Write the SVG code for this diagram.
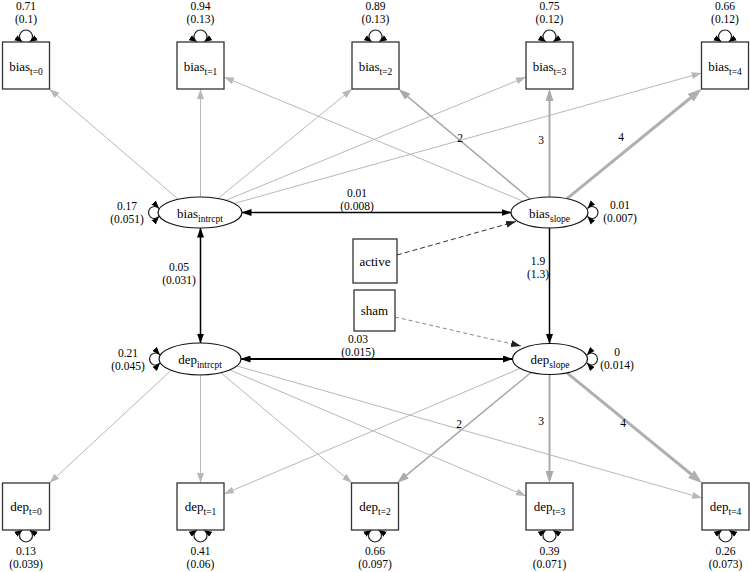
<svg xmlns="http://www.w3.org/2000/svg" width="750" height="572" viewBox="0 0 750 572" font-family="'Liberation Serif', 'DejaVu Serif', serif">
<style>
text{font-family:'Liberation Serif','DejaVu Serif',serif;fill:#000}
.lbl{font-size:13px;text-anchor:middle}
.sub{font-size:9.5px}
.num{font-size:11.5px;text-anchor:middle}
.box{fill:#fff;stroke:#333;stroke-width:1.3}
.ell{fill:#fff;stroke:#111;stroke-width:1.2}
.lt{fill:none;stroke:#b8b8b8;stroke-width:1;marker-end:url(#mL)}
.m2{fill:none;stroke:#aaa;stroke-width:1.6;marker-end:url(#mM)}
.m3{fill:none;stroke:#aaa;stroke-width:2;marker-end:url(#mM)}
.m4{fill:none;stroke:#b0b0b0;stroke-width:3;marker-end:url(#mT)}
.blk{fill:none;stroke:#000;marker-end:url(#mB)}
.bi{marker-start:url(#mB)}
.loop{fill:none;stroke:#222;stroke-width:1.2;marker-start:url(#mLoop);marker-end:url(#mLoop)}
</style>
<defs>
<marker id="mL" viewBox="0 0 10 7" refX="10" refY="3.5" markerWidth="10" markerHeight="7" markerUnits="userSpaceOnUse" orient="auto-start-reverse"><path d="M0,0 L10,3.5 L0,7 z" fill="#b8b8b8"/></marker>
<marker id="mM" viewBox="0 0 12 8" refX="9" refY="4" markerWidth="12" markerHeight="8" markerUnits="userSpaceOnUse" orient="auto-start-reverse"><path d="M0,0 L12,4 L0,8 z" fill="#aaa"/></marker>
<marker id="mT" viewBox="0 0 14 10" refX="10" refY="5" markerWidth="14" markerHeight="10" markerUnits="userSpaceOnUse" orient="auto-start-reverse"><path d="M0,0 L14,5 L0,10 z" fill="#b0b0b0"/></marker>
<marker id="mB" viewBox="0 0 10 7" refX="9.5" refY="3.5" markerWidth="10" markerHeight="7" markerUnits="userSpaceOnUse" orient="auto-start-reverse"><path d="M0,0 L10,3.5 L0,7 z" fill="#000"/></marker>
<marker id="mD" viewBox="0 0 10 7" refX="10" refY="3.5" markerWidth="10" markerHeight="7" markerUnits="userSpaceOnUse" orient="auto-start-reverse"><path d="M0,0 L10,3.5 L0,7 z" fill="#222"/></marker>
<marker id="mLoop" viewBox="0 0 8 6" refX="8" refY="3" markerWidth="8" markerHeight="6.5" markerUnits="userSpaceOnUse" orient="auto-start-reverse"><path d="M0,0 L8,3 L0,6 z" fill="#000"/></marker>
</defs>
<rect width="750" height="572" fill="#fff"/>

<g id="connectors">
  <path class="lt" d="M178,199 L49.5,89"/>
  <path class="lt" d="M200.5,197 L200.5,89"/>
  <path class="lt" d="M218,198.5 L352,89"/>
  <path class="lt" d="M226,200.3 L526,77"/>
  <path class="lt" d="M234,203.5 L701.5,73"/>
  <path class="lt" d="M522.5,201 L224,77"/>
  <path class="m2" d="M530,199 L400.8,90.9"/>
  <path class="m3" d="M549.5,197 L549.5,92"/>
  <path class="m4" d="M567,198.7 L698.4,91.5"/>
  <path class="lt" d="M171,370.5 L49.5,483"/>
  <path class="lt" d="M200.5,375 L200.5,483"/>
  <path class="lt" d="M221,372.8 L352,483"/>
  <path class="lt" d="M230,370 L526,496"/>
  <path class="lt" d="M237,366 L702,498"/>
  <path class="lt" d="M520,368.5 L224,494"/>
  <path class="m2" d="M531,372.5 L399.3,481.1"/>
  <path class="m3" d="M549.5,374.5 L549.5,480"/>
  <path class="m4" d="M567,372.8 L698.9,480.5"/>
  <path class="blk bi" stroke-width="1.3" d="M242,212.5 L511,212.5"/>
  <path class="blk bi" stroke-width="1.5" d="M200.5,228 L200.5,343"/>
  <path class="blk bi" stroke-width="2" d="M241,359 L512.5,359"/>
  <path class="blk" stroke-width="1.5" d="M549.5,228 L549.5,343.5"/>
  <path fill="none" stroke="#333" stroke-width="1" stroke-dasharray="5,3" marker-end="url(#mD)" d="M397,255 L516,221.5"/>
  <path fill="none" stroke="#888" stroke-width="1" stroke-dasharray="4,3" marker-end="url(#mD)" d="M395,317 L521,346"/>
  <path class="loop" d="M22.5,42 A6.5 6.5 0 1 1 29.5,42"/>
  <path class="loop" d="M197,42 A6.5 6.5 0 1 1 204,42"/>
  <path class="loop" d="M372,42 A6.5 6.5 0 1 1 379,42"/>
  <path class="loop" d="M546,42 A6.5 6.5 0 1 1 553,42"/>
  <path class="loop" d="M721.5,42 A6.5 6.5 0 1 1 728.5,42"/>
  <path class="loop" d="M22.5,530 A6.5 6.5 0 1 0 29.5,530"/>
  <path class="loop" d="M197,530 A6.5 6.5 0 1 0 204,530"/>
  <path class="loop" d="M371.5,530 A6.5 6.5 0 1 0 378.5,530"/>
  <path class="loop" d="M546,530 A6.5 6.5 0 1 0 553,530"/>
  <path class="loop" stroke="#999" d="M722,530 A6.5 6.5 0 1 0 729,530"/>
  <path class="loop" d="M159,208.5 A6 6 0 1 0 159,216.5"/>
  <path class="loop" d="M587.5,208.5 A6 6 0 1 1 587.5,216.5"/>
  <path class="loop" d="M160,355 A6 6 0 1 0 160,363"/>
  <path class="loop" stroke="#bbb" d="M587,355 A6 6 0 1 1 587,363"/>
  <text class="num" x="460" y="142">2</text>
  <text class="num" x="541" y="144">3</text>
  <text class="num" x="621" y="141">4</text>
  <text class="num" x="459" y="428">2</text>
  <text class="num" x="541" y="425">3</text>
  <text class="num" x="623" y="427">4</text>
  <text class="num" x="357" y="197">0.01</text>
  <text class="num" x="357" y="210">(0.008)</text>
  <text class="num" x="358" y="343">0.03</text>
  <text class="num" x="358" y="356">(0.015)</text>
  <text class="num" x="179" y="271">0.05</text>
  <text class="num" x="179" y="284">(0.031)</text>
  <text class="num" x="538" y="265">1.9</text>
  <text class="num" x="538" y="278">(1.3)</text>
  <text class="num" x="127" y="209.5">0.17</text>
  <text class="num" x="127" y="222.5">(0.051)</text>
  <text class="num" x="620" y="209">0.01</text>
  <text class="num" x="620" y="222">(0.007)</text>
  <text class="num" x="128" y="357">0.21</text>
  <text class="num" x="128" y="370">(0.045)</text>
  <text class="num" x="617" y="356">0</text>
  <text class="num" x="617" y="369">(0.014)</text>
  <text class="num" x="26" y="10">0.71</text>
  <text class="num" x="26" y="23">(0.1)</text>
  <text class="num" x="200.5" y="10">0.94</text>
  <text class="num" x="200.5" y="23">(0.13)</text>
  <text class="num" x="375.5" y="10">0.89</text>
  <text class="num" x="375.5" y="23">(0.13)</text>
  <text class="num" x="549.5" y="10">0.75</text>
  <text class="num" x="549.5" y="23">(0.12)</text>
  <text class="num" x="725" y="10">0.66</text>
  <text class="num" x="725" y="23">(0.12)</text>
  <text class="num" x="26" y="554.5">0.13</text>
  <text class="num" x="26" y="567.5">(0.039)</text>
  <text class="num" x="200.5" y="554.5">0.41</text>
  <text class="num" x="200.5" y="567.5">(0.06)</text>
  <text class="num" x="375" y="554.5">0.66</text>
  <text class="num" x="375" y="567.5">(0.097)</text>
  <text class="num" x="549.5" y="554.5">0.39</text>
  <text class="num" x="549.5" y="567.5">(0.071)</text>
  <text class="num" x="725.5" y="554.5">0.26</text>
  <text class="num" x="725.5" y="567.5">(0.073)</text>
</g>

<g id="bias_t0"><rect class="box" x="2.5" y="42" width="47" height="47"/><text class="lbl" x="26" y="71">bias<tspan class="sub" dy="4">t=0</tspan></text></g>
<g id="bias_t1"><rect class="box" x="177" y="42" width="47" height="47"/><text class="lbl" x="200.5" y="71">bias<tspan class="sub" dy="4">t=1</tspan></text></g>
<g id="bias_t2"><rect class="box" x="352" y="42" width="47" height="47"/><text class="lbl" x="375.5" y="71">bias<tspan class="sub" dy="4">t=2</tspan></text></g>
<g id="bias_t3"><rect class="box" x="526" y="42" width="47" height="47"/><text class="lbl" x="549.5" y="71">bias<tspan class="sub" dy="4">t=3</tspan></text></g>
<g id="bias_t4"><rect class="box" x="701.5" y="42" width="47" height="47"/><text class="lbl" x="725" y="71">bias<tspan class="sub" dy="4">t=4</tspan></text></g>

<g id="bias_intrcpt"><ellipse class="ell" cx="200" cy="212.5" rx="42" ry="15.5"/><text class="lbl" x="200" y="218">bias<tspan class="sub" dy="4">intrcpt</tspan></text></g>
<g id="bias_slope"><ellipse class="ell" cx="549.5" cy="212.5" rx="38.5" ry="15.5"/><text class="lbl" x="549.5" y="218">bias<tspan class="sub" dy="4">slope</tspan></text></g>
<g id="active"><rect class="box" x="353" y="239" width="44" height="44"/><text class="lbl" x="375" y="265.5">active</text></g>
<g id="sham"><rect class="box" x="354" y="290" width="41" height="41"/><text class="lbl" x="374.5" y="315">sham</text></g>
<g id="dep_intrcpt"><ellipse class="ell" cx="200" cy="359" rx="41" ry="16"/><text class="lbl" x="200" y="364">dep<tspan class="sub" dy="4">intrcpt</tspan></text></g>
<g id="dep_slope"><ellipse class="ell" cx="550" cy="359" rx="37.5" ry="15.5"/><text class="lbl" x="550" y="364">dep<tspan class="sub" dy="4">slope</tspan></text></g>

<g id="dep_t0"><rect class="box" x="2.5" y="483" width="47" height="47"/><text class="lbl" x="26" y="511">dep<tspan class="sub" dy="4">t=0</tspan></text></g>
<g id="dep_t1"><rect class="box" x="177" y="483" width="47" height="47"/><text class="lbl" x="200.5" y="511">dep<tspan class="sub" dy="4">t=1</tspan></text></g>
<g id="dep_t2"><rect class="box" x="351.5" y="483" width="47" height="47"/><text class="lbl" x="375" y="511">dep<tspan class="sub" dy="4">t=2</tspan></text></g>
<g id="dep_t3"><rect class="box" x="526" y="483" width="47" height="47"/><text class="lbl" x="549.5" y="511">dep<tspan class="sub" dy="4">t=3</tspan></text></g>
<g id="dep_t4"><rect class="box" x="702" y="483" width="47" height="47"/><text class="lbl" x="725.5" y="511">dep<tspan class="sub" dy="4">t=4</tspan></text></g>
</svg>
